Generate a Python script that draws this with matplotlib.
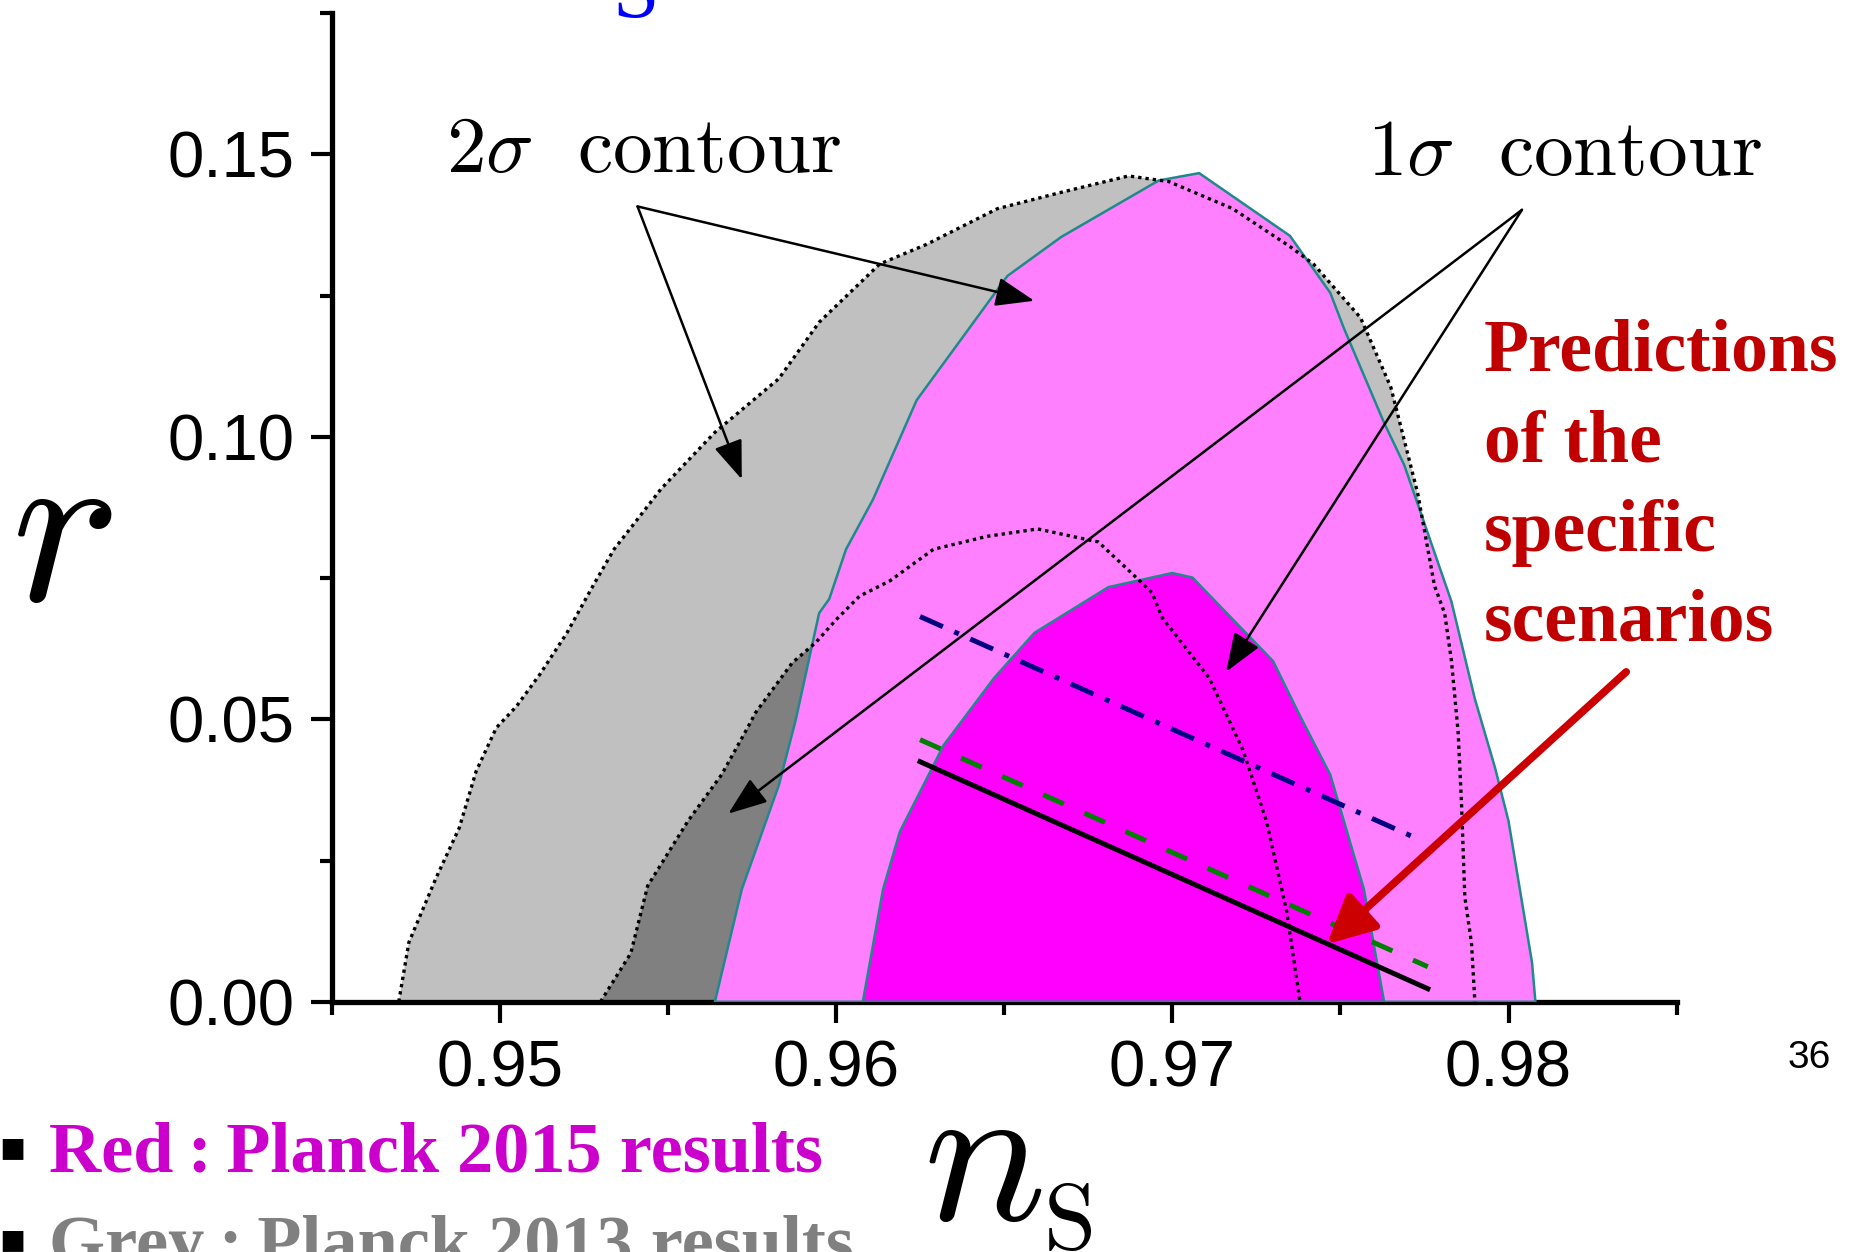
import matplotlib
matplotlib.use('Agg')
import matplotlib.pyplot as plt
from matplotlib.ticker import MultipleLocator, FormatStrFormatter

plt.rcParams['font.family'] = 'Liberation Sans'
plt.rcParams['mathtext.fontset'] = 'cm'

# Planck 2013 (grey) 2-sigma and 1-sigma contours, traced along the boundary
grey2_ns = [0.9470, 0.9473, 0.9481, 0.9488, 0.9493, 0.9499, 0.9505, 0.9512, 0.9520, 0.9528,
            0.9534, 0.9539, 0.9548, 0.9564, 0.9583, 0.9595, 0.9613, 0.9627, 0.9648, 0.9667,
            0.9687, 0.9699, 0.9718, 0.9735, 0.9742, 0.9756, 0.9765, 0.9773, 0.9778, 0.9781,
            0.9783, 0.9785, 0.9786, 0.9787, 0.9789, 0.9790]
grey2_r = [0.0, 0.0105, 0.0218, 0.0308, 0.0408, 0.0485, 0.0523, 0.0580, 0.0653, 0.0739,
           0.0801, 0.0839, 0.0908, 0.1008, 0.1103, 0.1203, 0.1306, 0.1341, 0.1404, 0.1433,
           0.1462, 0.1452, 0.1404, 0.1337, 0.1306, 0.1211, 0.1088, 0.0900, 0.0736, 0.0688,
           0.0605, 0.0479, 0.0354, 0.0186, 0.0103, 0.0]

grey1_ns = [0.9530, 0.9539, 0.9544, 0.9556, 0.9566, 0.9574, 0.9576, 0.9587, 0.9594, 0.9600,
            0.9607, 0.9616, 0.9629, 0.9645, 0.9660, 0.9678, 0.9687, 0.9694, 0.9697, 0.9711,
            0.9721, 0.9728, 0.9734, 0.9738]
grey1_r = [0.0, 0.0086, 0.0205, 0.0320, 0.0402, 0.0488, 0.0511, 0.0600, 0.0636, 0.0676,
           0.0718, 0.0745, 0.0801, 0.0824, 0.0837, 0.0814, 0.0764, 0.0724, 0.0680, 0.0573,
           0.0446, 0.0320, 0.0161, 0.0]

# Planck 2015 (pink) 2-sigma and 1-sigma contours
pink2_ns = [0.9564, 0.9572, 0.9583, 0.9588, 0.9595, 0.9598, 0.9603, 0.9611, 0.9624, 0.9651,
            0.9667, 0.9696, 0.9708, 0.9735, 0.9747, 0.9751, 0.9763, 0.9769, 0.9783, 0.9790,
            0.9796, 0.9800, 0.9807, 0.9808]
pink2_r = [0.0, 0.0199, 0.0383, 0.0498, 0.0688, 0.0713, 0.0801, 0.0889, 0.1065, 0.1285,
           0.1354, 0.1454, 0.1467, 0.1356, 0.1255, 0.1193, 0.1025, 0.0950, 0.0709, 0.0536,
           0.0414, 0.0320, 0.0069, 0.0]

pink1_ns = [0.9608, 0.9614, 0.9619, 0.9632, 0.9647, 0.9659, 0.9681, 0.9700, 0.9706, 0.9730,
            0.9738, 0.9747, 0.9757, 0.9763]
pink1_r = [0.0, 0.0199, 0.0301, 0.0454, 0.0573, 0.0653, 0.0734, 0.0759, 0.0751, 0.0603,
           0.0506, 0.0402, 0.0199, 0.0]

# model predictions (straight segments)
solid_ns = [0.9625, 0.9776]
solid_r = [0.0425, 0.0023]
dashed_ns = [0.9625, 0.9776]
dashed_r = [0.0464, 0.0062]
dashdot_ns = [0.9625, 0.9772]
dashdot_r = [0.0682, 0.0291]

xticks = [0.95, 0.96, 0.97, 0.98]
yticks = [0.00, 0.05, 0.10, 0.15]

teal = '#1f8a8a'

fig = plt.figure(figsize=(18.5, 12.52), dpi=100)
ax = fig.add_axes([0.1792, 0.1999, 0.7271, 0.7895])

ax.fill(grey2_ns, grey2_r, color='#c0c0c0', lw=0, zorder=1)
ax.fill(grey1_ns, grey1_r, color='#808080', lw=0, zorder=2)
ax.fill(pink2_ns, pink2_r, facecolor='#ff80ff', edgecolor=teal, lw=1.8, zorder=3)
ax.fill(pink1_ns, pink1_r, facecolor='#ff00ff', edgecolor=teal, lw=1.8, zorder=4)
ax.plot(grey2_ns, grey2_r, color='black', ls=(0, (1, 1.2)), lw=2.4, zorder=5)
ax.plot(grey1_ns, grey1_r, color='black', ls=(0, (1, 1.2)), lw=2.4, zorder=5)

ax.plot(solid_ns, solid_r, color='black', lw=3.6, zorder=6)
ax.plot(dashed_ns, dashed_r, color='#008000', lw=3.6, ls=(0, (4.5, 4.5)), zorder=6)
ax.plot(dashdot_ns, dashdot_r, color='#000080', lw=3.6, ls=(0, (5, 2.5, 1, 2.5)), zorder=6)

ax.set_xlim(0.945, 0.985)
ax.set_ylim(0, 0.175)
ax.set_xticks(xticks)
ax.set_yticks(yticks)
ax.xaxis.set_minor_locator(MultipleLocator(0.005))
ax.yaxis.set_minor_locator(MultipleLocator(0.025))
ax.xaxis.set_major_formatter(FormatStrFormatter('%.2f'))
ax.yaxis.set_major_formatter(FormatStrFormatter('%.2f'))
ax.tick_params(which='major', length=15, width=3, direction='out', pad=12, labelsize=47)
ax.tick_params(which='minor', length=9, width=3, direction='out')
for s in ['top', 'right']:
    ax.spines[s].set_visible(False)
for s in ['left', 'bottom']:
    ax.spines[s].set_linewidth(3.8)

# annotations
arr = dict(arrowstyle='-|>,head_length=0.8,head_width=0.3', color='black', lw=1.8,
           shrinkA=0, shrinkB=0, mutation_scale=30)
ax.annotate('', xy=(0.9659, 0.1241), xytext=(0.9541, 0.1408), arrowprops=arr, zorder=7)
ax.annotate('', xy=(0.9572, 0.0925), xytext=(0.9541, 0.1408), arrowprops=arr, zorder=7)
ax.annotate('', xy=(0.9568, 0.0333), xytext=(0.9804, 0.1402), arrowprops=arr,
            zorder=7, annotation_clip=False)
ax.annotate('', xy=(0.9716, 0.0584), xytext=(0.9804, 0.1402), arrowprops=arr,
            zorder=7, annotation_clip=False)
ax.annotate('', xy=(0.9746, 0.0102), xytext=(0.9835, 0.0584),
            arrowprops=dict(arrowstyle='-|>,head_length=0.6,head_width=0.3', color='#cc0000',
                            lw=5.5, shrinkA=0, shrinkB=0, mutation_scale=48),
            zorder=8, annotation_clip=False)

ax.text(0.9484, 0.1505, r'$2\sigma\ \ \mathrm{contour}$', fontsize=57, va='center', ha='left')
ax.text(0.9758, 0.1500, r'$1\sigma\ \ \mathrm{contour}$', fontsize=57, va='center', ha='left')

pred_lines = ['Predictions', 'of the', 'specific', 'scenarios']
pred_r = [0.1117, 0.0957, 0.0798, 0.0640]
for txt, yy in zip(pred_lines, pred_r):
    ax.text(0.97926, yy, txt, fontsize=53, fontweight='bold', family='Liberation Serif',
            color='#c00000', va='baseline', ha='left', clip_on=False)

# axis titles
fig.text(0.006, 0.5208, r'$r$', fontsize=165, va='baseline', ha='left')
fig.text(0.4990, 0.0256, r'$n$', fontsize=147, va='baseline', ha='left')
fig.text(0.5640, 0.0024, r'$\mathrm{S}$', fontsize=68, va='baseline', ha='left')

# slide remnants
fig.text(0.331, 0.9864, 'S', fontsize=60, family='Liberation Serif', color='#0000ff',
         va='baseline', ha='left')
fig.text(0.9665, 0.147, '36', fontsize=28, va='baseline', ha='left')

fig.text(-0.001, 0.0745, '\u25aa', fontsize=30, family='DejaVu Sans', va='baseline', ha='left')
fig.text(0.0265, 0.0640, 'Red\u2009:\u2009Planck 2015 results', fontsize=52, fontweight='bold',
         family=['Liberation Serif', 'DejaVu Serif'], color='#cc00cc', va='baseline', ha='left')
fig.text(-0.001, 0.0005, '\u25aa', fontsize=30, family='DejaVu Sans', va='baseline', ha='left')
fig.text(0.0265, -0.0104, 'Grey\u2009:\u2009Planck 2013 results', fontsize=52, fontweight='bold',
         family=['Liberation Serif', 'DejaVu Serif'], color='#808080', va='baseline', ha='left')

fig.savefig('out.png', dpi=100)
